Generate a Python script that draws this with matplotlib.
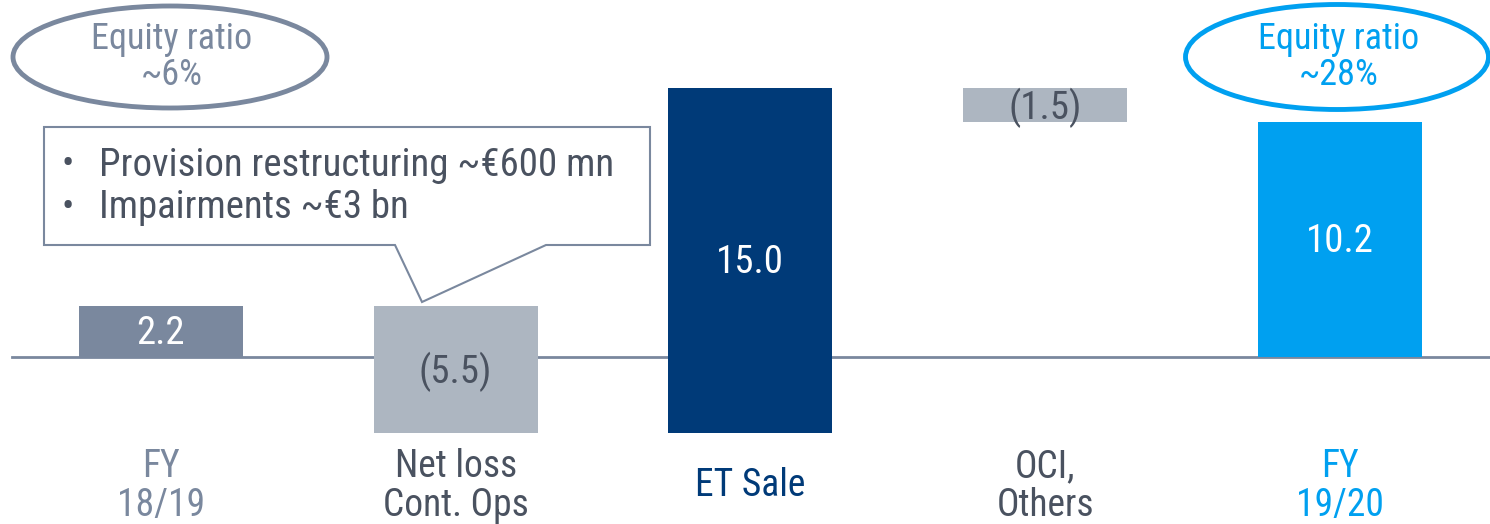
import matplotlib
matplotlib.use("Agg")
import matplotlib.pyplot as plt
from matplotlib import font_manager
from matplotlib.patches import Ellipse, Polygon

# data
categories = ["FY\n18/19", "Net loss\nCont. Ops", "ET Sale", "OCI,\nOthers", "FY\n19/20"]
changes = [2.2, -5.5, 15.0, -1.5, 10.2]
is_total = [True, False, False, False, True]
value_labels = ["2.2", "(5.5)", "15.0", "(1.5)", "10.2"]
callout_lines = ["Provision restructuring ~€600 mn", "Impairments ~€3 bn"]
ratio_left = "Equity ratio\n~6%"
ratio_right = "Equity ratio\n~28%"

GREY = "#7a889e"
LIGHT = "#adb6c1"
NAVY = "#003a78"
BLUE = "#00a0f0"
DARK = "#4a5260"
bar_colors = [GREY, LIGHT, NAVY, LIGHT, BLUE]
label_colors = [GREY, DARK, NAVY, DARK, BLUE]
value_colors = ["white", DARK, "white", DARK, "white"]


def _pick_font():
    for name in ["Liberation Sans Narrow", "Roboto Condensed", "Roboto", "DejaVu Sans"]:
        try:
            font_manager.findfont(name, fallback_to_default=False)
            return name
        except Exception:
            continue
    return "DejaVu Sans"


FONT = _pick_font()
plt.rcParams["font.family"] = [FONT, "DejaVu Sans"]

fig = plt.figure(figsize=(14.9, 5.24), dpi=100)
ax = fig.add_axes([0, 0, 1, 1])
ax.set_xlim(-0.546, 4.51)
ax.set_ylim(-7.26, 15.52)
ax.axis("off")

# waterfall bottoms
bottoms, running = [], 0.0
for ch, tot in zip(changes, is_total):
    if tot:
        bottoms.append(0.0)
        running = ch
    else:
        bottoms.append(running if ch >= 0 else running + ch)
        running += ch
heights = [abs(c) for c in changes]

ax.axhline(0, xmin=0.008, xmax=1, color=GREY, lw=2, zorder=1)
xs = list(range(len(categories)))
ax.bar(xs, heights, bottom=bottoms, width=0.557, color=bar_colors, zorder=2)

for x, b, h, lab, c in zip(xs, bottoms, heights, value_labels, value_colors):
    ax.text(x, b + h / 2 - 0.1, lab, ha="center", va="center", color=c, fontsize=28, zorder=3)

for x, cat, c in zip(xs, categories, label_colors):
    ax.text(x, -5.6, cat, ha="center", va="center", color=c, fontsize=27,
            linespacing=1.05)

# callout box (axes fraction coords from pixel positions)
W, H = 1490.0, 524.0
def fx(px): return px / W
def fy(py): return 1 - py / H

box = Polygon([(fx(44), fy(127)), (fx(650), fy(127)), (fx(650), fy(245)),
               (fx(546), fy(245)), (fx(422), fy(302)), (fx(395), fy(245)),
               (fx(44), fy(245))], closed=True, transform=ax.transAxes,
              facecolor="white", edgecolor=GREY, lw=1.5, zorder=4)
ax.add_patch(box)
for i, line in enumerate(callout_lines):
    yy = fy(165 + 43 * i)
    ax.text(fx(68), yy, "•", transform=ax.transAxes, ha="center", va="center",
            color=DARK, fontsize=26, zorder=5)
    ax.text(fx(99), yy, line, transform=ax.transAxes, ha="left", va="center",
            color=DARK, fontsize=28, zorder=5)

# equity ratio ellipses
for cx, w, h, txt, c in [(170, 314, 102, ratio_left, GREY), (1337, 303, 105, ratio_right, BLUE)]:
    ax.add_patch(Ellipse((fx(cx), fy(57)), w / W, h / H, transform=ax.transAxes,
                         facecolor="none", edgecolor=c, lw=3.5, zorder=4))
    ax.text(fx(cx + 2), fy(57), txt, transform=ax.transAxes, ha="center", va="center",
            color=c, fontsize=26, linespacing=1.0, zorder=5)

fig.savefig("out.png", dpi=100)
